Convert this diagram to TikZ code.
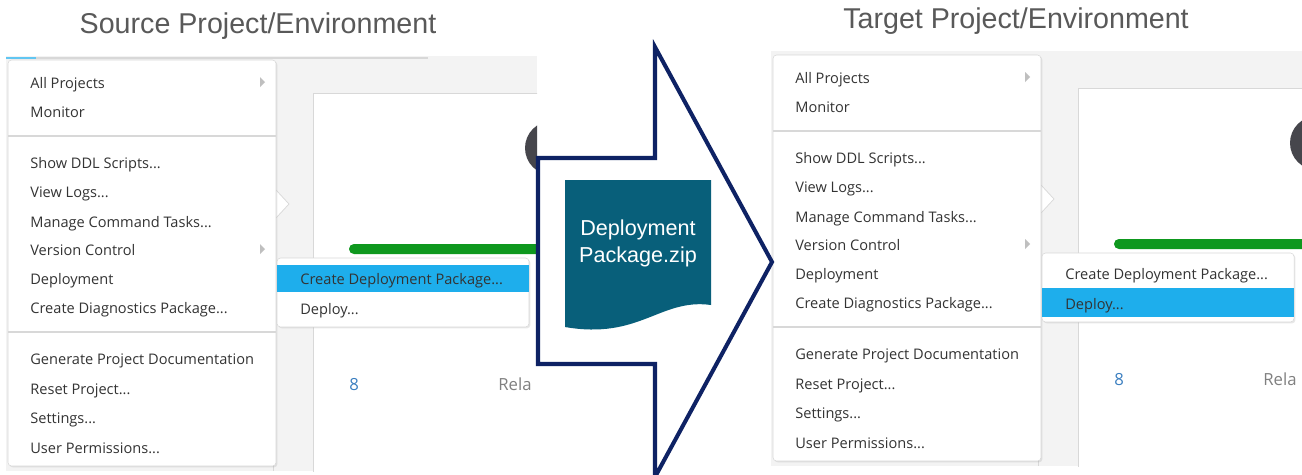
\documentclass[tikz,border=0pt]{standalone}
\usepackage{fontspec}
\setmainfont{Liberation Sans}
\newfontfamily\uifont{Open Sans}
\usetikzlibrary{positioning,shadows}

\definecolor{uibg}{RGB}{243,243,243}
\definecolor{uiline}{RGB}{216,216,216}
\definecolor{uitext}{RGB}{51,51,51}
\definecolor{uihigh}{RGB}{30,174,236}
\definecolor{uigreen}{RGB}{14,152,30}
\definecolor{uiblue}{RGB}{58,126,192}
\definecolor{uidark}{RGB}{70,70,76}
\definecolor{arrownavy}{RGB}{14,34,100}
\definecolor{pkgteal}{RGB}{8,95,122}
\definecolor{titlegrey}{RGB}{89,89,89}

\tikzset{
  menubox/.style={fill=white, draw=uiline, line width=0.3pt, rounded corners=2pt,
    drop shadow={opacity=0.18, shadow xshift=0.8pt, shadow yshift=-0.8pt}},
  menuitem/.style={anchor=west, inner sep=0pt, text height=1.6ex, text depth=0.3ex,
    text=uitext, font=\uifont\fontsize{8.3}{10}\selectfont},
  septor/.style={uiline, line width=1pt},
  subarrow/.style={fill=gray!50},
  title/.style={text=titlegrey, font=\fontsize{16.3}{19}\selectfont},
}

\newcommand{\etcdots}{...}

% one screenshot: name, x shift, y shift, highlighted submenu entry
\newcommand{\uishot}[4]{%
\begin{scope}[shift={(#2,#3)}]
  \begin{scope}
    \clip (6,56) rectangle (537,471);
    \fill[uibg] (6,56) rectangle (537,471);
    \draw[uiline] (273,95) -- (273,471);
    \draw[uiline, fill=white] (313,93) rectangle (560,480);
    \fill[uidark] (552,148) circle (27);
    \fill[uigreen, rounded corners=2.8pt] (349,244) rectangle (560,254);
    \node[menuitem, text=uiblue, font=\uifont\fontsize{9.5}{11}\selectfont] (#1-count) at (349,384) {8};
    \node[menuitem, text=gray, font=\uifont\fontsize{9.5}{11}\selectfont] (#1-rel) at (498,384) {Rela};
    \draw[uiline, fill=white] (276,190) -- (289,204) -- (276,218);
    \path[menubox] (8,60) rectangle (276,466);
    \draw[septor] (8,136) -- (276,136);
    \draw[septor] (8,332) -- (276,332);
    \fill[subarrow] (260,77) -- (265,82) -- (260,87) -- cycle;
    \fill[subarrow] (260,244) -- (265,249) -- (260,254) -- cycle;
    \foreach \txt/\yy [count=\i] in {All Projects/82, Monitor/111, Show DDL Scripts\etcdots/162,
        View Logs\etcdots/191, Manage Command Tasks\etcdots/221, Version Control/249, Deployment/278,
        Create Diagnostics Package\etcdots/307, Generate Project Documentation/358,
        Reset Project\etcdots/388, Settings\etcdots/417, User Permissions\etcdots/447}
      \node[menuitem] (#1-item\i) at (30,\yy) {\txt};
    \path[menubox] (277,258) rectangle (529,327);
    \ifnum#4=1
      \fill[uihigh] (277,265) rectangle (529,292);
    \else
      \fill[uihigh] (277,293) rectangle (529,322);
    \fi
    \node[menuitem] (#1-create) at (300,278) {Create Deployment Package\etcdots};
    \node[menuitem] (#1-deploy) at (300,308) {Deploy\etcdots};
  \end{scope}
\end{scope}}

\begin{document}
\begin{tikzpicture}[x=0.02cm, y=-0.02cm]
  \useasboundingbox[fill=white] (0,0) rectangle (1302,474);

  \node[title] (src-title) at (258,26) {Source Project/Environment};
  \node[title] (tgt-title) at (1016,21) {Target Project/Environment};

  \uishot{src}{0}{0}{1}
  \draw[uiline, line width=1.7pt] (6,58) -- (428,58);
  \draw[uihigh!70, line width=1.7pt] (6,58) -- (36,58);
  \uishot{tgt}{765}{-5}{2}

  \draw[arrownavy, line width=2.3pt, fill=white, line join=miter]
    (538,158) -- (655,158) -- (655,47) -- (772,262) -- (655,477) -- (655,364) -- (538,364) -- cycle;
  \fill[pkgteal] (565,180) -- (711,180) -- (711,305)
    .. controls (660,298) and (640,340) .. (565,327) -- cycle;
  \node[text=white, align=center, font=\fontsize{12.3}{15.3}\selectfont] (pkg-label) at (638,243)
    {Deployment\\Package.zip};
\end{tikzpicture}
\end{document}
